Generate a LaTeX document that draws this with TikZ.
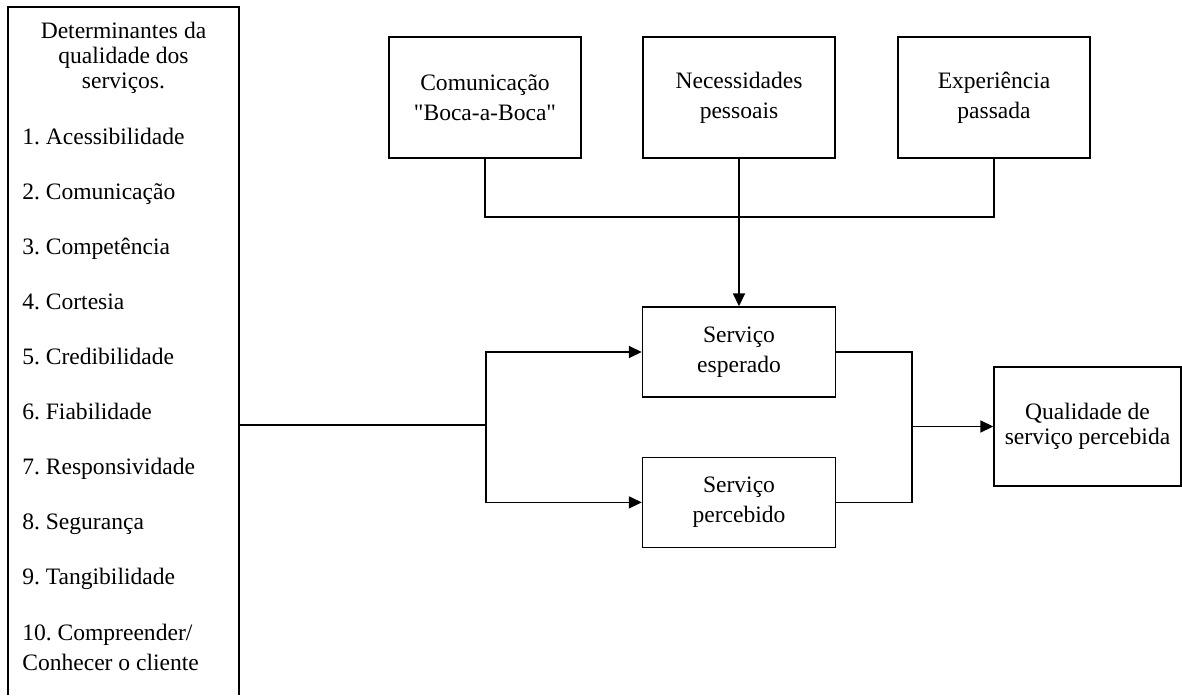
\documentclass[tikz,border=0pt]{standalone}
\usepackage{fontspec}
\setmainfont{Liberation Serif}
\usetikzlibrary{arrows.meta}
\usetikzlibrary{positioning}
\frenchspacing

\begin{document}
\begin{tikzpicture}[
  caixa/.style={draw,line width=0.8pt,minimum width=3.84cm,minimum height=2.42cm,align=center,font=\fontsize{13.4}{17.1}\selectfont},
  item/.style={anchor=west,inner sep=0pt,text height=1.6ex,text depth=0.4ex,font=\fontsize{13.4}{14.2}\selectfont},
  liga/.style={line width=1pt},
  seta/.style={line width=1pt,-{Triangle[length=0.26cm,width=0.24cm]}}
]
\useasboundingbox (0,0) rectangle (23.64,13.9);

% painel dos determinantes (aberto em baixo)
\draw[line width=0.8pt] (0.16,0) -- (0.16,13.76) -- (4.78,13.76) -- (4.78,0);
\node[align=center,font=\fontsize{13.4}{14.2}\selectfont] (titulo) at (2.47,12.74) {Determinantes da\\qualidade dos\\servi\c{c}os.};
\foreach \n/\txt in {1/Acessibilidade,2/Comunica\c{c}\~{a}o,3/Compet\^{e}ncia,4/Cortesia,5/Credibilidade,6/Fiabilidade,7/Responsividade,8/Seguran\c{c}a,9/Tangibilidade}
  \node[item] (d\n) at (0.44,{11.1-1.1*(\n-1)}) {\n. \txt};
\node[anchor=west,inner sep=0pt,align=left,font=\fontsize{13.4}{17.1}\selectfont] (d10) at (0.44,0.95) {10. Compreender/\\Conhecer o cliente};

% expectativas
\node[caixa] (boca) at (9.70,11.95) {Comunica\c{c}\~{a}o\\\textquotedbl Boca-a-Boca\textquotedbl};
\node[caixa] (necessidades) at (14.78,11.95) {Necessidades\\pessoais};
\node[caixa] (experiencia) at (19.88,11.95) {Experi\^{e}ncia\\passada};

% servicos
\node[caixa,minimum width=3.86cm,minimum height=1.8cm] (esperado) at (14.78,6.86) {Servi\c{c}o\\esperado};
\node[caixa,minimum width=3.86cm,minimum height=1.8cm,below=1.18cm of esperado] (percebido) {Servi\c{c}o\\percebido};
\node[caixa,minimum width=3.74cm,minimum height=2.38cm,font=\fontsize{13.4}{14.2}\selectfont] (qualidade) at (21.75,5.37) {Qualidade de\\servi\c{c}o percebida};

\coordinate (uniao) at (14.78,9.56);
\draw[liga] (boca.south) |- (uniao) -| (experiencia.south);
\draw[seta] (necessidades.south) -- (esperado.north);

\coordinate (saida) at (4.78,5.4);
\coordinate (divide) at (9.72,5.4);
\draw[liga] (saida) -- (divide);
\draw[seta] (divide) |- (esperado.west);
\draw[seta] (divide) |- (percebido.west);

\coordinate (junta) at (18.24,5.37);
\draw[liga] (esperado.east) -| (junta);
\draw[liga] (percebido.east) -| (junta);
\draw[seta] (junta) -- (qualidade.west);

\end{tikzpicture}
\end{document}
